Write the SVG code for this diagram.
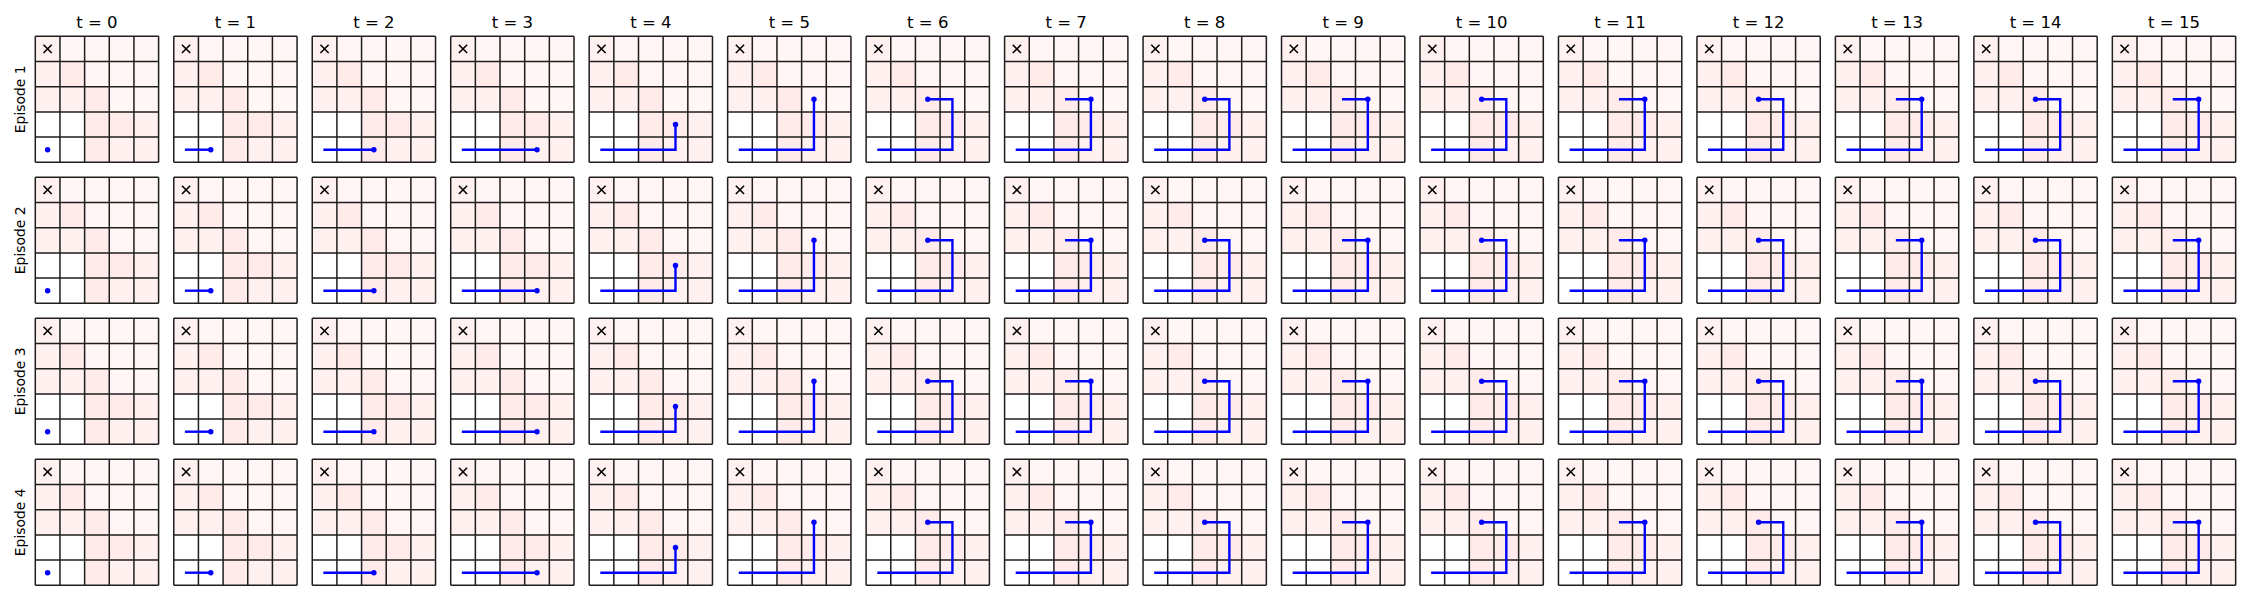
<svg xmlns="http://www.w3.org/2000/svg" xmlns:xlink="http://www.w3.org/1999/xlink" width="2250" height="600" viewBox="0 0 2250 600">
<style>
.t{font-family:"DejaVu Sans",sans-serif;font-size:16.5px;fill:#000;text-anchor:middle}
.e{font-family:"DejaVu Sans",sans-serif;font-size:13.9px;fill:#000;text-anchor:middle}
.A{fill:#fff6f5}.B{fill:#fff1f0}.C{fill:#ffebea}.W{fill:#ffffff}
.gl{stroke:#1e1e1e;stroke-width:1.5;fill:none}
.tr{stroke:#0000ff;stroke-width:2.4;fill:none;stroke-linecap:square;stroke-linejoin:miter}
.dot{fill:#0000ff}
</style>
<defs>
<g id="grid">
<rect class="B" x="0" y="0" width="24.66" height="25.2"/>
<rect class="A" x="24.66" y="0" width="24.66" height="25.2"/>
<rect class="A" x="49.32" y="0" width="24.66" height="25.2"/>
<rect class="A" x="73.98" y="0" width="24.66" height="25.2"/>
<rect class="A" x="98.64" y="0" width="24.66" height="25.2"/>
<rect class="B" x="0" y="25.2" width="24.66" height="25.2"/>
<rect class="C" x="24.66" y="25.2" width="24.66" height="25.2"/>
<rect class="A" x="49.32" y="25.2" width="24.66" height="25.2"/>
<rect class="A" x="73.98" y="25.2" width="24.66" height="25.2"/>
<rect class="A" x="98.64" y="25.2" width="24.66" height="25.2"/>
<rect class="B" x="0" y="50.4" width="24.66" height="25.2"/>
<rect class="B" x="24.66" y="50.4" width="24.66" height="25.2"/>
<rect class="C" x="49.32" y="50.4" width="24.66" height="25.2"/>
<rect class="A" x="73.98" y="50.4" width="24.66" height="25.2"/>
<rect class="A" x="98.64" y="50.4" width="24.66" height="25.2"/>
<rect class="W" x="0" y="75.6" width="24.66" height="25.2"/>
<rect class="W" x="24.66" y="75.6" width="24.66" height="25.2"/>
<rect class="C" x="49.32" y="75.6" width="24.66" height="25.2"/>
<rect class="C" x="73.98" y="75.6" width="24.66" height="25.2"/>
<rect class="B" x="98.64" y="75.6" width="24.66" height="25.2"/>
<rect class="W" x="0" y="100.8" width="24.66" height="25.2"/>
<rect class="W" x="24.66" y="100.8" width="24.66" height="25.2"/>
<rect class="C" x="49.32" y="100.8" width="24.66" height="25.2"/>
<rect class="B" x="73.98" y="100.8" width="24.66" height="25.2"/>
<rect class="B" x="98.64" y="100.8" width="24.66" height="25.2"/>
<path class="gl" d="M0 0V126M24.66 0V126M49.32 0V126M73.98 0V126M98.64 0V126M123.3 0V126M0 0H123.3M0 25.2H123.3M0 50.4H123.3M0 75.6H123.3M0 100.8H123.3M0 126H123.3"/>
<path d="M8.2 8.5L16.4 16.7M16.4 8.5L8.2 16.7" stroke="#000" stroke-width="1.6" fill="none"/>
</g>
<g id="s0"><circle class="dot" cx="12.33" cy="113.4" r="2.7"/></g>
<g id="s1"><path class="tr" d="M12.33 113.4H36.99"/><circle class="dot" cx="36.99" cy="113.4" r="2.7"/></g>
<g id="s2"><path class="tr" d="M12.33 113.4H61.65"/><circle class="dot" cx="61.65" cy="113.4" r="2.7"/></g>
<g id="s3"><path class="tr" d="M12.33 113.4H86.31"/><circle class="dot" cx="86.31" cy="113.4" r="2.7"/></g>
<g id="s4"><path class="tr" d="M12.33 113.4H86.31V88.2"/><circle class="dot" cx="86.31" cy="88.2" r="2.7"/></g>
<g id="s5"><path class="tr" d="M12.33 113.4H86.31V63"/><circle class="dot" cx="86.31" cy="63" r="2.7"/></g>
<g id="s6"><path class="tr" d="M12.33 113.4H86.31V63H61.65"/><circle class="dot" cx="61.65" cy="63" r="2.7"/></g>
<g id="s7"><path class="tr" d="M12.33 113.4H86.31V63H61.65"/><circle class="dot" cx="86.31" cy="63" r="2.7"/></g>
<g id="row">
<g transform="translate(35.3,0)"><use href="#grid"/><use href="#s0"/></g>
<g transform="translate(173.77,0)"><use href="#grid"/><use href="#s1"/></g>
<g transform="translate(312.24,0)"><use href="#grid"/><use href="#s2"/></g>
<g transform="translate(450.71,0)"><use href="#grid"/><use href="#s3"/></g>
<g transform="translate(589.18,0)"><use href="#grid"/><use href="#s4"/></g>
<g transform="translate(727.65,0)"><use href="#grid"/><use href="#s5"/></g>
<g transform="translate(866.12,0)"><use href="#grid"/><use href="#s6"/></g>
<g transform="translate(1004.59,0)"><use href="#grid"/><use href="#s7"/></g>
<g transform="translate(1143.06,0)"><use href="#grid"/><use href="#s6"/></g>
<g transform="translate(1281.53,0)"><use href="#grid"/><use href="#s7"/></g>
<g transform="translate(1420,0)"><use href="#grid"/><use href="#s6"/></g>
<g transform="translate(1558.47,0)"><use href="#grid"/><use href="#s7"/></g>
<g transform="translate(1696.94,0)"><use href="#grid"/><use href="#s6"/></g>
<g transform="translate(1835.41,0)"><use href="#grid"/><use href="#s7"/></g>
<g transform="translate(1973.88,0)"><use href="#grid"/><use href="#s6"/></g>
<g transform="translate(2112.35,0)"><use href="#grid"/><use href="#s7"/></g>
</g>
</defs>
<rect x="0" y="0" width="2250" height="600" fill="#ffffff"/>
<g id="titles">
<text class="t" x="96.95" y="28">t = 0</text>
<text class="t" x="235.42" y="28">t = 1</text>
<text class="t" x="373.89" y="28">t = 2</text>
<text class="t" x="512.36" y="28">t = 3</text>
<text class="t" x="650.83" y="28">t = 4</text>
<text class="t" x="789.3" y="28">t = 5</text>
<text class="t" x="927.77" y="28">t = 6</text>
<text class="t" x="1066.24" y="28">t = 7</text>
<text class="t" x="1204.71" y="28">t = 8</text>
<text class="t" x="1343.18" y="28">t = 9</text>
<text class="t" x="1481.65" y="28">t = 10</text>
<text class="t" x="1620.12" y="28">t = 11</text>
<text class="t" x="1758.59" y="28">t = 12</text>
<text class="t" x="1897.06" y="28">t = 13</text>
<text class="t" x="2035.53" y="28">t = 14</text>
<text class="t" x="2174" y="28">t = 15</text>
</g>
<g id="episode1">
<text class="e" transform="translate(24.5,99.3) rotate(-90)">Episode 1</text>
<use href="#row" transform="translate(0,36.3)"/>
</g>
<g id="episode2">
<text class="e" transform="translate(24.5,240.3) rotate(-90)">Episode 2</text>
<use href="#row" transform="translate(0,177.3)"/>
</g>
<g id="episode3">
<text class="e" transform="translate(24.5,381.3) rotate(-90)">Episode 3</text>
<use href="#row" transform="translate(0,318.3)"/>
</g>
<g id="episode4">
<text class="e" transform="translate(24.5,522.3) rotate(-90)">Episode 4</text>
<use href="#row" transform="translate(0,459.3)"/>
</g>
<g id="connectors"/>
</svg>
